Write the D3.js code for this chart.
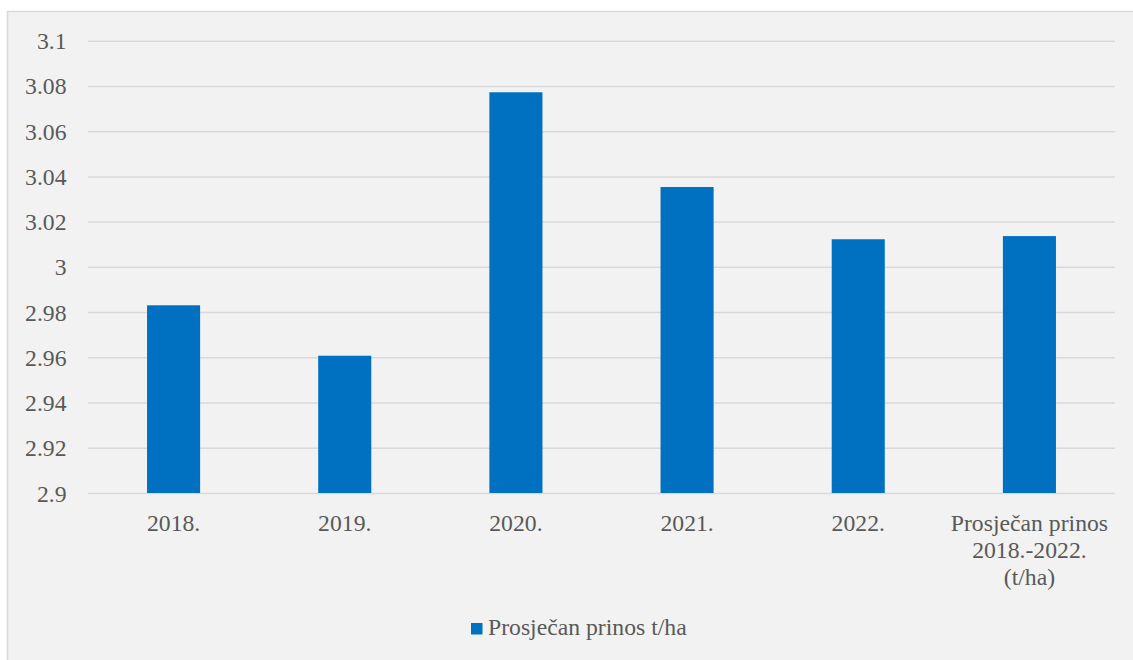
<!DOCTYPE html>
<html lang="hr">
<head>
    <meta charset="utf-8">
    <title>Prosječan prinos t/ha</title>
    <script src="https://d3js.org/d3.v7.min.js"></script>
    <style>
        body{
            margin: 0;
            background: #fff;
        }
    </style>
</head>
<body>
    <div id="container"></div>
    <script type="text/javascript">
        var categories = ['2018.', '2019.', '2020.', '2021.', '2022.', 'Prosječan prinos\n2018.-2022.\n(t/ha)'];
        var values = [2.983, 2.9607, 3.0772, 3.0353, 3.0122, 3.0136];
        var yTicks = [2.9, 2.92, 2.94, 2.96, 2.98, 3, 3.02, 3.04, 3.06, 3.08, 3.1];
        var seriesName = 'Prosječan prinos t/ha';

        var width = 1133, height = 660;
        var plot = {left: 88, right: 1115, top: 40.7, bottom: 493};
        var barColor = '#0070c0';

        // inline style so nothing else overrides the serif face
        function serifText(sel){
            sel.style('font-family', "'Liberation Serif'")
               .style('font-size', '23.7px')
               .style('fill', '#595959');
        }

        var svg = d3.select('#container')
                    .append('svg')
                    .attr('width', width)
                    .attr('height', height);

        // chart area frame
        svg.append('rect')
           .attr('x', 7.5)
           .attr('y', 11.5)
           .attr('width', width)
           .attr('height', height)
           .attr('fill', '#f2f2f2')
           .attr('stroke', '#d9d9d9')
           .attr('stroke-width', 1.5);

        var xScale = d3.scaleBand()
                       .domain(categories)
                       .range([plot.left, plot.right])
                       .padding(0);
        var yScale = d3.scaleLinear()
                       .domain([2.9, 3.1])
                       .range([plot.bottom, plot.top]);

        var yAxis = d3.axisLeft(yScale)
                      .tickValues(yTicks)
                      .tickFormat(d => String(+d.toFixed(2)))
                      .tickSize(-(plot.right - plot.left))
                      .tickPadding(21.5);
        var gy = svg.append('g')
                    .attr('transform', 'translate(' + plot.left + ',0)')
                    .call(yAxis);
        gy.select('.domain').remove();
        gy.selectAll('line')
          .attr('stroke', '#d9d9d9')
          .attr('stroke-width', 1.5);
        gy.selectAll('text')
          .attr('dy', '0.34em')
          .call(serifText);

        var barW = xScale.bandwidth() * 0.31;
        svg.selectAll('.bar')
           .data(values)
           .enter()
           .append('rect')
           .attr('class', 'bar')
           .attr('fill', barColor)
           .attr('x', (d, i) => xScale(categories[i]) + xScale.bandwidth() / 2 - barW / 2)
           .attr('width', barW)
           .attr('y', d => yScale(d))
           .attr('height', d => yScale(2.9) - yScale(d));

        var xAxis = d3.axisBottom(xScale).tickSize(0).tickFormat('');
        var gx = svg.append('g')
                    .attr('transform', 'translate(0,' + plot.bottom + ')')
                    .call(xAxis);
        gx.select('.domain').remove();
        gx.selectAll('.tick').each(function(d){
            var lines = d.split('\n');
            var t = d3.select(this).append('text')
                      .attr('text-anchor', 'middle')
                      .call(serifText);
            lines.forEach(function(line, k){
                t.append('tspan')
                 .attr('x', 0)
                 .attr('y', 38 + k * 27)
                 .text(line);
            });
        });

        // legend
        var legend = svg.append('g')
                        .attr('transform', 'translate(471,623)');
        legend.append('rect')
              .attr('width', 11.5)
              .attr('height', 11.5)
              .attr('fill', barColor);
        legend.append('text')
              .attr('x', 17)
              .attr('y', 12)
              .call(serifText)
              .text(seriesName);
    </script>
</body>
</html>
